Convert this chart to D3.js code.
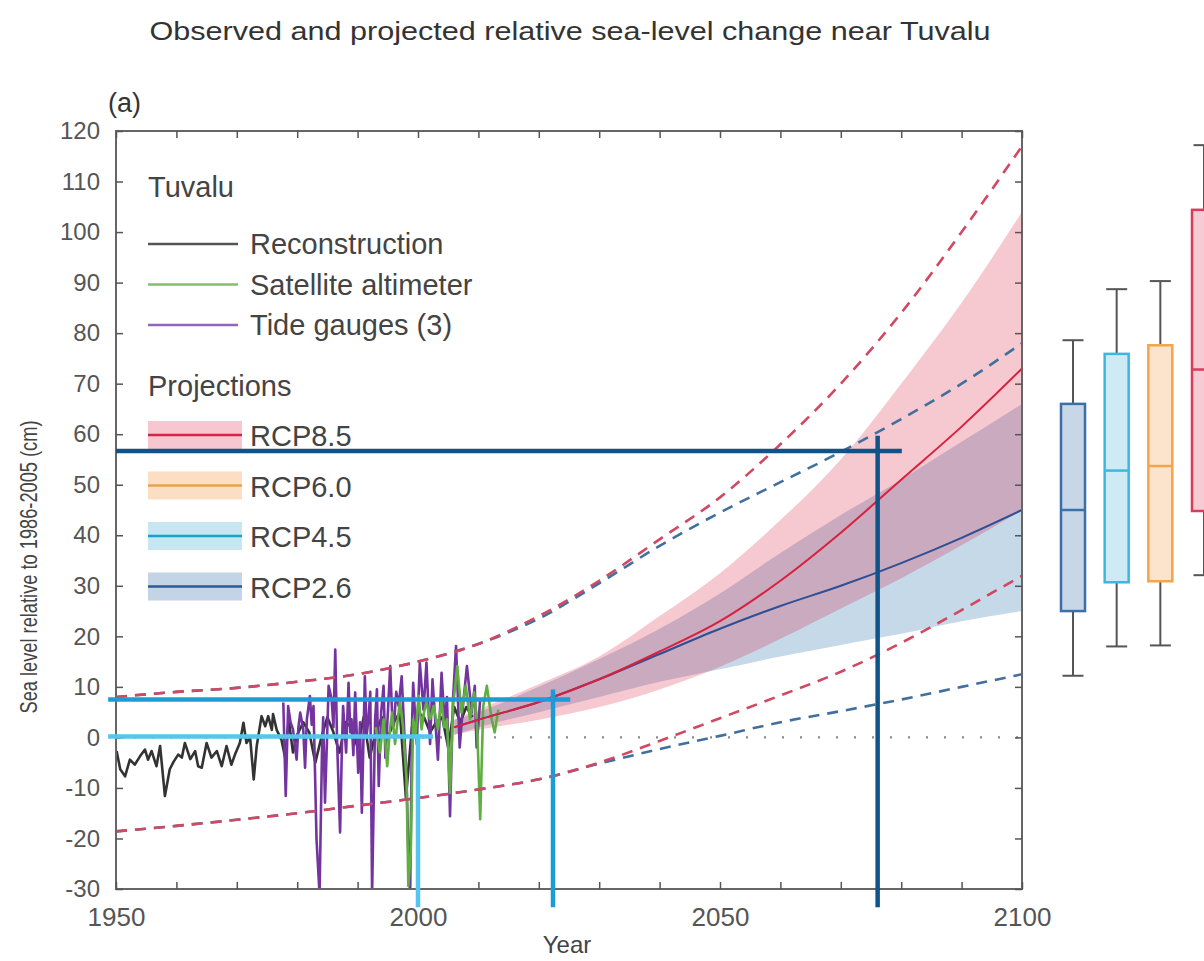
<!DOCTYPE html>
<html>
<head>
<meta charset="utf-8">
<script src="https://cdn.jsdelivr.net/npm/d3@7"></script>
<style>
  body { margin: 0; background: #fff; }
  svg { display: block; font-family: "Liberation Sans", Arial, sans-serif; }
</style>
</head>
<body>
<svg width="1204" height="961"></svg>
<script>
// Observed series: [year, sea level in cm]
const reconstruction = [
  [1950.1, -2.7], [1950.7, -6.3], [1951.5, -7.7], [1952.3, -4.4], [1953.1, -5.4], [1954.0, -3.7],
  [1954.8, -2.4], [1955.3, -4.4], [1955.9, -2.7], [1956.7, -5.7], [1957.3, -1.7], [1958.1, -11.6],
  [1958.9, -6.3], [1959.5, -4.9], [1960.3, -3.4], [1960.9, -4.0], [1961.4, -1.1], [1962.3, -4.3],
  [1963.1, -2.7], [1963.6, -5.7], [1964.2, -6.0], [1965.0, -1.1], [1965.8, -4.0], [1966.7, -2.7],
  [1967.5, -5.7], [1968.3, -1.7], [1969.1, -5.4], [1969.7, -3.4], [1970.5, -1.1], [1971.1, 2.9],
  [1971.6, -1.1], [1972.2, 0.0], [1972.8, -8.3], [1973.3, -1.7], [1974.1, 4.2], [1974.7, 2.2],
  [1975.2, 4.2], [1975.8, 1.5], [1976.0, 4.6], [1976.6, 1.5], [1977.4, -0.5], [1978.0, -4.0],
  [1978.6, 3.5], [1979.3, -3.0], [1980.0, 0.5], [1981.0, 3.0], [1982.0, 1.0], [1983.0, -5.0],
  [1984.0, 0.0], [1985.0, 4.0], [1986.0, 1.0], [1987.0, -3.0], [1988.0, 3.0], [1989.0, 2.0],
  [1990.0, -2.0], [1991.0, 4.0], [1992.0, -4.0], [1993.0, 1.0], [1994.0, 4.0], [1995.0, 0.0],
  [1996.0, 3.0], [1997.0, 5.0], [1998.0, -12.0], [1999.0, 2.0], [2000.0, 5.0], [2001.0, 4.0],
  [2002.0, 1.0], [2003.0, 3.0], [2004.0, 4.0], [2005.0, -2.0], [2006.0, 6.0], [2007.0, 3.0],
  [2008.0, 6.0], [2009.0, 4.0]
];

const tideGauges = [
  [1977.7, 6.9], [1978.1, -11.6], [1978.5, 6.2], [1978.9, 3.0], [1979.3, 1.6], [1979.9, -4.4],
  [1980.2, 2.0], [1980.5, 4.9], [1981.0, 1.6], [1981.3, -6.0], [1981.6, 3.6], [1982.1, 8.2],
  [1982.4, 2.5], [1982.7, 6.2], [1983.2, -20.2], [1983.7, -31], [1984.1, -3.0], [1984.3, 4.0],
  [1984.6, -12.9], [1985.0, 2.0], [1985.2, 10.2], [1985.7, 7.6], [1986.0, 2.0], [1986.3, 17.4],
  [1986.6, -0.7], [1987.1, -18.8], [1987.4, -2.0], [1987.6, 6.2], [1988.1, -3.0], [1988.5, 10.8],
  [1988.8, 1.0], [1989.0, 3.6], [1989.3, -3.5], [1989.6, 8.9], [1990.1, -7.0], [1990.4, 3.0],
  [1990.7, -14.9], [1991.2, 12.1], [1991.5, 0.5], [1991.8, 3.6], [1992.1, 9.0], [1992.4, -31],
  [1992.9, 3.6], [1993.2, 9.5], [1993.5, -9.6], [1993.9, 5.0], [1994.3, 10.2], [1994.6, -4.0],
  [1994.9, 2.3], [1995.4, 14.1], [1995.7, 5.0], [1996.0, 2.3], [1996.4, 9.0], [1996.8, 6.2],
  [1997.3, 12.1], [1997.8, -0.7], [1998.1, -8.0], [1998.4, -22.8], [1998.7, -31], [1999.0, 2.0],
  [1999.2, 10.8], [1999.8, -1.3], [2000.3, 14.8], [2000.9, 5.5], [2001.1, 9.0], [2001.4, 14.8],
  [2002.0, -1.3], [2002.4, 11.5], [2002.8, 4.3], [2003.3, -4.4], [2003.9, 12.8], [2004.4, 3.0],
  [2004.8, 8.0], [2005.3, -15.6], [2005.8, 7.6], [2006.3, 18.1], [2006.9, -2.0], [2007.5, 7.0],
  [2008.1, 14.1], [2008.9, 4.9], [2009.4, 10.2], [2009.7, -2.0], [2010.3, 7.6]
];

const satellite = [
  [1993.0, 2.0], [1993.7, -3.0], [1994.3, 3.6], [1994.9, -5.7], [1995.3, 1.0], [1995.7, 4.9],
  [1996.2, -1.3], [1996.6, 3.0], [1997.0, 7.0], [1997.5, 2.3], [1998.1, -8.3], [1998.4, -29.4],
  [1998.8, -22.8], [1999.2, 3.6], [1999.6, 0.5], [2000.1, 8.2], [2000.6, 1.6], [2001.0, 5.0],
  [2001.4, 7.0], [2002.0, 3.6], [2002.6, 6.2], [2003.3, 1.6], [2003.9, 7.6], [2004.3, 2.0],
  [2004.8, 3.6], [2005.3, -11.0], [2005.8, 6.2], [2006.5, 14.1], [2007.2, 4.9], [2007.9, 10.2],
  [2008.6, 3.6], [2009.3, 8.9], [2009.8, 2.0], [2010.3, -16.2], [2010.8, 6.2], [2011.4, 10.2],
  [2012.2, 3.6], [2012.7, 1.0], [2013.3, 5.5]
];

// Projections (cm)
const projYears   = [2006, 2010, 2020, 2030, 2040, 2050, 2060, 2070, 2080, 2090, 2100];
const rcp85Median = [2, 3.5, 7, 11.5, 17, 23, 31, 40.5, 51, 61.5, 73];
const rcp85Upper  = [3.5, 5.5, 10.5, 16, 24, 32.5, 43, 55, 70, 86, 104];
const rcp85Lower  = [0.5, 1.5, 3.5, 6, 9.5, 14, 19.5, 25.5, 31.5, 38, 45];
const rcp26Median = [2, 3.5, 7, 11.5, 16.5, 21.5, 26, 30, 34.5, 39.5, 45];
const rcp26Upper  = [3.5, 5, 10, 15.5, 21.5, 28.5, 36.5, 44, 51, 58.5, 66];
const rcp26Lower  = [0.5, 2, 5, 8, 11, 13.5, 16, 18.3, 20.5, 23, 25];

// Dashed outer ranges
const dashYears    = [1950, 1960, 1970, 1980, 1990, 2000, 2010, 2020, 2030, 2040, 2050, 2060, 2070, 2080, 2090, 2100];
const rcp85DashHi  = [8, 9, 9.8, 11, 12.5, 15, 18.5, 24, 31, 39.2, 47.5, 58, 70, 84, 100, 117];
const rcp26DashHi  = [8, 9, 9.8, 11, 12.5, 15, 18.5, 23.5, 30.5, 37.9, 44.5, 50.5, 56.5, 63, 70, 78];
const rcp85DashLo  = [-18.6, -17.5, -16.3, -15, -13.5, -12, -10.3, -8.3, -5, -0.7, 3.8, 8.3, 13, 18.7, 25.2, 32];
const rcp26DashLo  = [-18.6, -17.5, -16.3, -15, -13.5, -12, -10.3, -8.3, -5.2, -2.3, 0.3, 3, 5.2, 7.5, 10, 12.5];

// Box plots for 2100
const boxNames = ["RCP2.6", "RCP4.5", "RCP6.0", "RCP8.5"];
const boxLow   = [12.2, 18.0, 18.2, 32.1];
const boxQ1    = [25.0, 30.7, 30.9, 44.8];
const boxMed   = [45.0, 52.8, 53.7, 72.8];
const boxQ3    = [66.0, 75.9, 77.6, 104.4];
const boxHigh  = [78.6, 88.7, 90.3, 117.2];

// Legend texts
const obsLabels  = ["Reconstruction", "Satellite altimeter", "Tide gauges (3)"];
const projLabels = ["RCP8.5", "RCP6.0", "RCP4.5", "RCP2.6"];

// Marker lines drawn over the chart: point (year, value) and line extents
const markYear     = [2076.1, 2022.35, 2000.0];
const markValue    = [56.7, 7.5, 0.2];
const markHStart   = [1950, 1948.7, 1948.7];
const markHEnd     = [2080.1, 2025.2, 2002.5];
const markVTop     = [59.7, 9.5, 0.6];
const markVBottom  = -33.6;

const xTicks = d3.range(1950, 2101, 10);
const yTicks = d3.range(-30, 121, 10);

const colors = {
  "RCP8.5": { line: "#d42746", band: "#f6c7d0", box: "#dc3a5c", fill: "#f7cbd4" },
  "RCP6.0": { line: "#e8a24e", band: "#fbdec4", box: "#f2a54a", fill: "#fbe3cc" },
  "RCP4.5": { line: "#14a4cb", band: "#c6e6f2", box: "#3cb8e0", fill: "#cdeaf5" },
  "RCP2.6": { line: "#2a5b93", band: "#c2d4e6", box: "#3a6fa8", fill: "#c7d7e8" }
};
const obsColors = ["#333333", "#5fae40", "#7434a0"];
const legendObsColors = ["#555555", "#86bb70", "#9264c0"];
const markColors = ["#0f5389", "#1b9bd8", "#55c5ef"];

function drawChart() {
  let svg = d3.select("svg");
  const area = { left: 116, right: 1022, top: 131, bottom: 889 };

  let scX = d3.scaleLinear().domain([1950, 2100]).range([area.left, area.right]);
  let scY = d3.scaleLinear().domain([-30, 120]).range([area.bottom, area.top]);

  svg.append("clipPath").attr("id", "plotClip")
    .append("rect")
    .attr("x", area.left).attr("y", area.top)
    .attr("width", area.right - area.left).attr("height", area.bottom - area.top);

  let plot = svg.append("g").attr("clip-path", "url(#plotClip)");

  // Likely ranges
  const band = (lo, hi) => d3.area()
    .x((d, i) => scX(projYears[i]))
    .y0((d, i) => scY(lo[i]))
    .y1((d, i) => scY(hi[i]))
    .curve(d3.curveMonotoneX);

  plot.append("path").datum(projYears)
    .attr("d", band(rcp26Lower, rcp26Upper))
    .attr("fill", "#c6d9e8");
  plot.append("path").datum(projYears)
    .attr("d", band(rcp85Lower, rcp85Upper))
    .attr("fill", "#d5062a").attr("fill-opacity", 0.22);

  // Zero line
  plot.append("line")
    .attr("x1", scX(1950)).attr("x2", scX(2100))
    .attr("y1", scY(0)).attr("y2", scY(0))
    .attr("stroke", "#8a8a8a").attr("stroke-width", 2.2)
    .attr("stroke-dasharray", "2,16");

  // Observations
  const obsLine = d3.line().x(d => scX(d[0])).y(d => scY(d[1]));
  [[reconstruction, obsColors[0]], [tideGauges, obsColors[2]], [satellite, obsColors[1]]]
    .forEach(([series, c]) => {
      plot.append("path").datum(series)
        .attr("d", obsLine)
        .attr("fill", "none")
        .attr("stroke", c)
        .attr("stroke-width", 2.6)
        .attr("stroke-linejoin", "round");
    });

  // Medians
  const projLine = vals => d3.line()
    .x((d, i) => scX(projYears[i]))
    .y((d, i) => scY(vals[i]))
    .curve(d3.curveMonotoneX);
  plot.append("path").datum(projYears).attr("d", projLine(rcp26Median))
    .attr("fill", "none").attr("stroke", "#2f4f95").attr("stroke-width", 2);
  plot.append("path").datum(projYears).attr("d", projLine(rcp85Median))
    .attr("fill", "none").attr("stroke", "#d8203f").attr("stroke-width", 2);

  // Dashed outer ranges
  const dashLine = vals => d3.line()
    .x((d, i) => scX(dashYears[i]))
    .y((d, i) => scY(vals[i]))
    .curve(d3.curveMonotoneX);
  [[rcp26DashHi, "#41709f"], [rcp26DashLo, "#41709f"], [rcp85DashHi, "#d24862"], [rcp85DashLo, "#d24862"]]
    .forEach(([vals, c]) => {
      plot.append("path").datum(dashYears).attr("d", dashLine(vals))
        .attr("fill", "none").attr("stroke", c).attr("stroke-width", 2.6)
        .attr("stroke-dasharray", "11,8");
    });

  // Frame and ticks
  svg.append("rect")
    .attr("x", area.left).attr("y", area.top)
    .attr("width", area.right - area.left).attr("height", area.bottom - area.top)
    .attr("fill", "none").attr("stroke", "#666").attr("stroke-width", 2);

  const styleAxis = g => {
    g.select(".domain").remove();
    g.selectAll(".tick line").attr("stroke", "#555").attr("stroke-width", 1.5);
    g.selectAll("text").attr("fill", "#555").attr("font-family", "Liberation Sans, Arial, sans-serif");
    g.attr("font-family", null).attr("font-size", null);
  };

  svg.append("g")
    .attr("transform", `translate(0,${area.bottom})`)
    .call(d3.axisBottom(scX).tickValues(xTicks).tickSize(-7).tickPadding(19)
      .tickFormat(d => d % 50 === 0 ? String(d) : ""))
    .call(styleAxis)
    .selectAll("text").attr("font-size", 26);

  svg.append("g")
    .attr("transform", `translate(0,${area.top})`)
    .call(d3.axisTop(scX).tickValues(xTicks).tickSize(-7).tickFormat(""))
    .call(styleAxis);

  svg.append("g")
    .attr("transform", `translate(${area.left},0)`)
    .call(d3.axisLeft(scY).tickValues(yTicks).tickSize(-7).tickPadding(16)
      .tickFormat(d => String(d)))
    .call(styleAxis)
    .selectAll("text").attr("font-size", 24);

  svg.append("g")
    .attr("transform", `translate(${area.right},0)`)
    .call(d3.axisRight(scY).tickValues(yTicks).tickSize(-7).tickFormat(""))
    .call(styleAxis);

  // Titles
  svg.append("text")
    .attr("x", 570).attr("y", 40)
    .attr("text-anchor", "middle")
    .attr("font-size", 26).attr("fill", "#333")
    .attr("textLength", 841).attr("lengthAdjust", "spacingAndGlyphs")
    .text("Observed and projected relative sea-level change near Tuvalu");

  svg.append("text")
    .attr("x", 108).attr("y", 112)
    .attr("font-size", 27).attr("fill", "#333")
    .text("(a)");

  svg.append("text")
    .attr("x", 567).attr("y", 953)
    .attr("text-anchor", "middle")
    .attr("font-size", 24).attr("fill", "#444")
    .text("Year");

  svg.append("text")
    .attr("transform", "translate(37,567) rotate(-90)")
    .attr("text-anchor", "middle")
    .attr("font-size", 24).attr("fill", "#444")
    .attr("textLength", 293).attr("lengthAdjust", "spacingAndGlyphs")
    .text("Sea level relative to 1986-2005 (cm)");

  // Legend
  let legend = svg.append("g").attr("font-size", 29).attr("fill", "#444");
  legend.append("text").attr("x", 148).attr("y", 197).text("Tuvalu");
  obsLabels.forEach((label, i) => {
    const ly = 244 + i * 40.5;
    legend.append("line")
      .attr("x1", 148).attr("x2", 238).attr("y1", ly).attr("y2", ly)
      .attr("stroke", legendObsColors[i]).attr("stroke-width", 2.4);
    legend.append("text").attr("x", 250).attr("y", ly + 10).text(label);
  });
  legend.append("text").attr("x", 148).attr("y", 396).text("Projections");
  projLabels.forEach((label, i) => {
    const ly = 435 + i * 50.5;
    legend.append("rect")
      .attr("x", 148).attr("y", ly - 14).attr("width", 94).attr("height", 28)
      .attr("fill", colors[label].band);
    legend.append("line")
      .attr("x1", 148).attr("x2", 242).attr("y1", ly).attr("y2", ly)
      .attr("stroke", colors[label].line).attr("stroke-width", 2.6);
    legend.append("text").attr("x", 250).attr("y", ly + 11).text(label);
  });

  // Box plots for 2100
  let scBox = d3.scalePoint().domain(boxNames).range([1073, 1204]);
  const boxW = 24, capW = 21;
  boxNames.forEach((name, i) => {
    const cx = scBox(name);
    let g = svg.append("g");
    g.append("line").attr("x1", cx).attr("x2", cx)
      .attr("y1", scY(boxLow[i])).attr("y2", scY(boxHigh[i]))
      .attr("stroke", "#555").attr("stroke-width", 2);
    [boxLow[i], boxHigh[i]].forEach(v => {
      g.append("line").attr("x1", cx - capW / 2).attr("x2", cx + capW / 2)
        .attr("y1", scY(v)).attr("y2", scY(v))
        .attr("stroke", "#555").attr("stroke-width", 2);
    });
    g.append("rect")
      .attr("x", cx - boxW / 2).attr("y", scY(boxQ3[i]))
      .attr("width", boxW).attr("height", scY(boxQ1[i]) - scY(boxQ3[i]))
      .attr("fill", colors[name].fill).attr("stroke", colors[name].box).attr("stroke-width", 2.5);
    g.append("line").attr("x1", cx - boxW / 2).attr("x2", cx + boxW / 2)
      .attr("y1", scY(boxMed[i])).attr("y2", scY(boxMed[i]))
      .attr("stroke", colors[name].box).attr("stroke-width", 2.5);
  });

  // Marker lines on top
  markYear.forEach((yr, i) => {
    svg.append("line")
      .attr("x1", scX(markHStart[i])).attr("x2", scX(markHEnd[i]))
      .attr("y1", scY(markValue[i])).attr("y2", scY(markValue[i]))
      .attr("stroke", markColors[i]).attr("stroke-width", 4.5);
    svg.append("line")
      .attr("x1", scX(yr)).attr("x2", scX(yr))
      .attr("y1", scY(markVTop[i])).attr("y2", scY(markVBottom))
      .attr("stroke", markColors[i]).attr("stroke-width", 4.5);
  });
}

drawChart();
</script>
</body>
</html>
